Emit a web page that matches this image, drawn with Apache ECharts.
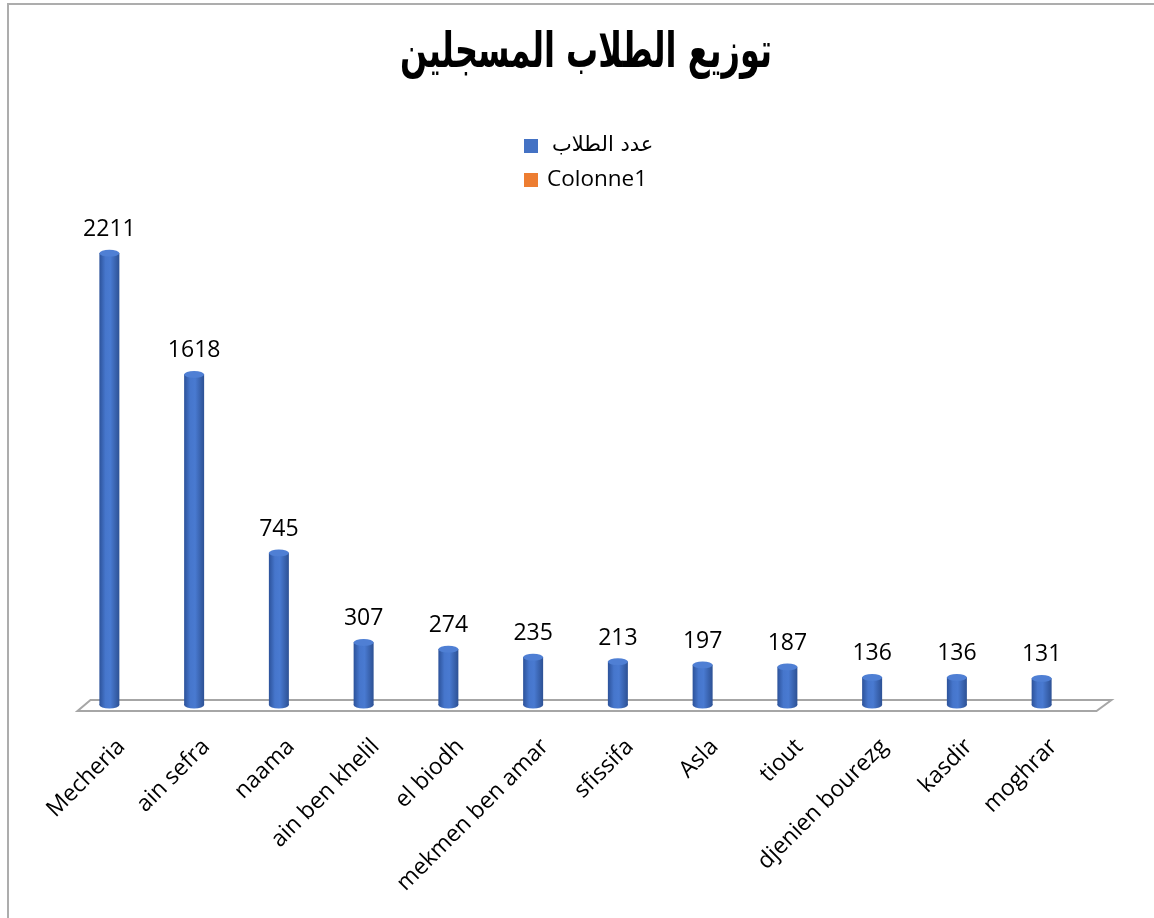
<!DOCTYPE html>
<html>
<head>
<meta charset="utf-8">
<script src="https://cdn.jsdelivr.net/npm/echarts@6/dist/echarts.min.js"></script>
<style>
  html, body { margin: 0; padding: 0; background: #fff; overflow: hidden; }
  #frame { position: absolute; left: 7px; top: 3px; right: -4px; bottom: -4px;
           border-left: 2px solid #ADADAD; border-top: 2px solid #ADADAD; }
  #chart { position: absolute; left: 0; top: 0; width: 1154px; height: 918px; }
</style>
</head>
<body>
<div id="frame"></div>
<div id="chart"></div>
<script>
// Registered students per commune
const titleText = 'توزيع الطلاب المسجلين';
const seriesNames = ['عدد الطلاب', 'Colonne1'];
const categories = ['Mecheria', 'ain sefra', 'naama', 'ain ben khelil', 'el biodh',
  'mekmen ben amar', 'sfissifa', 'Asla', 'tiout', 'djenien bourezg', 'kasdir', 'moghrar'];
const students = [2211, 1618, 745, 307, 274, 235, 213, 197, 187, 136, 136, 131];
const colonne1 = [];

const LATIN = '"Open Sans", "DejaVu Sans", sans-serif';
const ARABIC = '"DejaVu Sans", sans-serif';
const BAR_W = 20;
const CAP_H = 7;

// horizontal shading that gives the columns a cylindrical look
const cylinderFill = new echarts.graphic.LinearGradient(0, 0, 1, 0, [
  { offset: 0, color: '#2C529A' },
  { offset: 0.3, color: '#4676CC' },
  { offset: 0.55, color: '#497AD1' },
  { offset: 1, color: '#2D5194' }
]);

const chart = echarts.init(document.getElementById('chart'), null, { renderer: 'canvas' });

const plot = { left: 67, right: 70, top: 194, bottom: 213 };
const labelShift = 12;

chart.setOption({
  animation: false,
  legend: {
    orient: 'vertical',
    left: 524,
    top: 134,
    padding: 0,
    itemWidth: 14,
    itemHeight: 14,
    itemGap: 10,
    icon: 'rect',
    textStyle: { fontFamily: LATIN, fontSize: 22.5, lineHeight: 24, color: '#000', padding: [0, 0, 0, 4] },
    data: [
      { name: seriesNames[0], itemStyle: { color: '#4472C4' },
        textStyle: { fontFamily: ARABIC, fontSize: 21, padding: [0, 0, 0, 9] } },
      { name: seriesNames[1], itemStyle: { color: '#ED7D31' } }
    ]
  },
  grid: [
    { left: plot.left, right: plot.right, top: plot.top, bottom: plot.bottom },
    { left: plot.left + labelShift, right: plot.right - labelShift, top: plot.top, bottom: plot.bottom }
  ],
  xAxis: [
    {
      type: 'category', gridIndex: 0, data: categories,
      axisLine: { show: false }, axisTick: { show: false }, axisLabel: { show: false }
    },
    {
      type: 'category', gridIndex: 1, data: categories,
      axisLine: { show: false }, axisTick: { show: false },
      axisLabel: {
        rotate: 45, margin: 38, interval: 0,
        fontFamily: LATIN, fontSize: 23, color: '#000'
      }
    }
  ],
  yAxis: [
    { type: 'value', gridIndex: 0, min: 0, max: 2500, show: false },
    { type: 'value', gridIndex: 1, min: 0, max: 2500, show: false }
  ],
  series: [
    {
      name: seriesNames[0],
      type: 'bar',
      data: students,
      barWidth: BAR_W,
      barGap: '-100%',
      z: 3,
      itemStyle: { color: cylinderFill },
      label: {
        show: true, position: 'top', distance: 12,
        fontFamily: LATIN, fontSize: 23, color: '#000'
      }
    },
    {
      name: seriesNames[1],
      type: 'bar',
      data: colonne1,
      barWidth: BAR_W,
      barGap: '-100%',
      itemStyle: { color: '#ED7D31' }
    },
    {
      // rounded base of each column
      name: 'base',
      type: 'pictorialBar',
      data: students,
      symbol: 'circle',
      symbolSize: [BAR_W, CAP_H],
      symbolPosition: 'start',
      symbolOffset: [0, CAP_H / 2],
      z: 2,
      itemStyle: { color: cylinderFill },
      tooltip: { show: false }
    },
    {
      // elliptical top of each column
      name: 'cap',
      type: 'pictorialBar',
      data: students,
      symbol: 'circle',
      symbolSize: [BAR_W, CAP_H],
      symbolPosition: 'end',
      symbolOffset: [0, -CAP_H / 2],
      z: 4,
      itemStyle: { color: '#4F7FD4', borderColor: '#3862B0', borderWidth: 0.8 },
      tooltip: { show: false }
    }
  ]
});

// title (narrowed and heightened bold Arabic) and floor plane under the columns
function drawDecor() {
  const x0 = chart.convertToPixel({ xAxisIndex: 0 }, categories[0]);
  const x1 = chart.convertToPixel({ xAxisIndex: 0 }, categories[1]);
  const xN = chart.convertToPixel({ xAxisIndex: 0 }, categories[categories.length - 1]);
  const base = chart.convertToPixel({ yAxisIndex: 0 }, 0);
  const band = x1 - x0;
  const left = x0 - band / 2;
  const right = xN + band / 2;
  chart.setOption({
    graphic: [
      {
        type: 'text',
        x: 586,
        y: 54,
        scaleX: 0.78,
        scaleY: 1.2,
        silent: true,
        style: {
          text: titleText,
          fontFamily: ARABIC,
          fontSize: 41,
          fontWeight: 'bold',
          fill: '#000',
          align: 'center',
          verticalAlign: 'middle'
        }
      },
      {
        type: 'polygon',
        z: 0,
        silent: true,
        shape: {
          points: [
            [left + 10.5, base + 6],
            [right + 12.5, base + 6],
            [right + 27.5, base - 5],
            [left + 23.5, base - 5]
          ]
        },
        style: { fill: '#fff', stroke: '#A6A6A6', lineWidth: 2 }
      }
    ]
  });
}
drawDecor();
</script>
</body>
</html>
